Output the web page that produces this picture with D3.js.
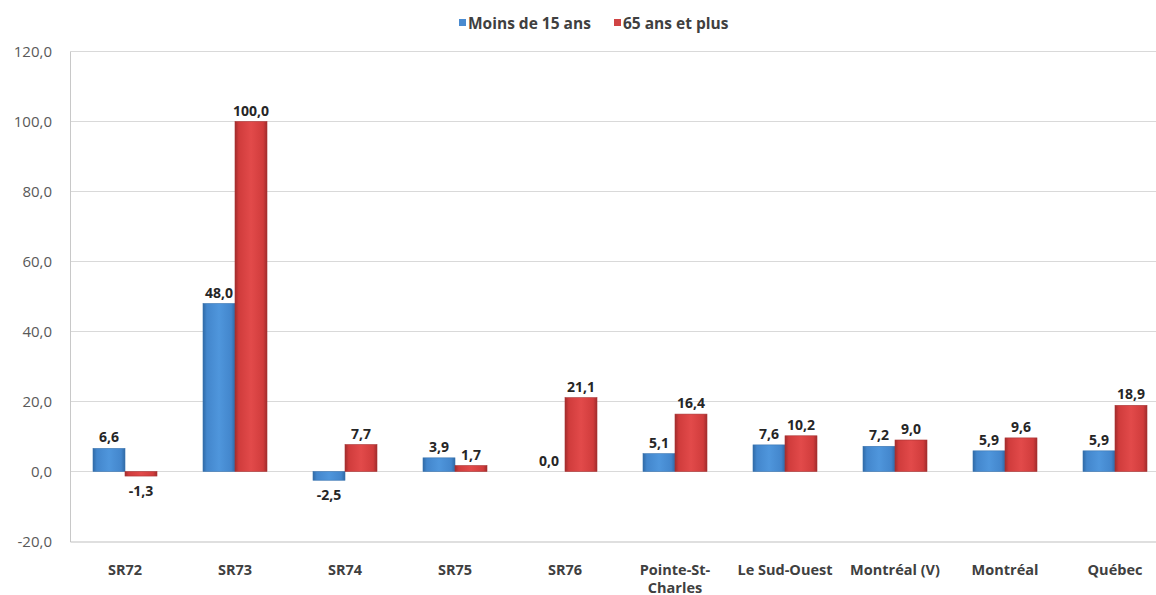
<!DOCTYPE html>
<html><head><meta charset="utf-8">
<script src="https://cdn.jsdelivr.net/npm/d3@7"></script>
<style>
html,body{margin:0;padding:0;background:#fff;overflow:hidden;}
text{font-family:"Open Sans","Lato",sans-serif;}
</style></head>
<body>
<svg id="chart" width="1156" height="595"></svg>
<script>
const categories = ["SR72","SR73","SR74","SR75","SR76","Pointe-St-|Charles","Le Sud-Ouest","Montréal (V)","Montréal","Québec"];
const seriesNames = ["Moins de 15 ans","65 ans et plus"];
const moins15 = [6.6, 48.0, -2.5, 3.9, 0.0, 5.1, 7.6, 7.2, 5.9, 5.9];
const plus65 = [-1.3, 100.0, 7.7, 1.7, 21.1, 16.4, 10.2, 9.0, 9.6, 18.9];
const yTicks = [-20, 0, 20, 40, 60, 80, 100, 120];

(function(){
const svg = d3.select("#chart");
const mLeft = 70, mRight = 1170, mTop = 51.5, mBottom = 541.5;
const x = d3.scaleBand().domain(categories).range([mLeft, mRight]).paddingInner(0).paddingOuter(0);
const x1 = d3.scaleBand().domain(seriesNames).range([x.bandwidth()/2 - 32, x.bandwidth()/2 + 32]).padding(0);
const y = d3.scaleLinear().domain([-20, 120]).range([mBottom, mTop]);
const fmt = v => d3.format(".1f")(v).replace(".", ",").replace("\u2212", "-");

const defs = svg.append("defs");
function grad(id, dark, mid, light){
  const g = defs.append("linearGradient").attr("id", id).attr("x1","0").attr("x2","1").attr("y1","0").attr("y2","0");
  [[0,dark],[0.12,mid],[0.5,light],[0.88,mid],[1,dark]].forEach(([o,c])=>g.append("stop").attr("offset",o).attr("stop-color",c));
}
grad("gBlue", "#2f6aa6", "#4386cc", "#4f96dc");
grad("gRed", "#a12c2c", "#d03c3c", "#e24a4a");
const fills = {"Moins de 15 ans":"url(#gBlue)","65 ans et plus":"url(#gRed)"};
const strokes = {"Moins de 15 ans":"#3a74b0","65 ans et plus":"#a83434"};

// gridlines
svg.append("g").selectAll("line").data(yTicks.filter(t=>t!==-20)).join("line")
  .attr("x1", mLeft).attr("x2", mRight).attr("y1", d=>y(d)).attr("y2", d=>y(d))
  .attr("stroke", "#d9d9d9").attr("stroke-width", 1);

// y axis
const yAxis = d3.axisLeft(y).tickValues(yTicks).tickFormat(fmt).tickSize(0).tickPadding(18);
const gy = svg.append("g").attr("transform", `translate(${mLeft},0)`).call(yAxis);
gy.select(".domain").attr("stroke", "#c8c8c8");
gy.selectAll("text").attr("fill", "#595959").style("font-size", "15px").attr("font-family","'Open Sans', sans-serif");

// x axis at bottom
const xAxis = d3.axisBottom(x).tickSize(0).tickPadding(0).tickFormat("");
const gx = svg.append("g").attr("transform", `translate(0,${mBottom})`).call(xAxis);
gx.select(".domain").attr("stroke", "#bfbfbf");
gx.selectAll(".tick").each(function(d){
  const parts = d.split("|");
  const t = d3.select(this).append("text").attr("fill", "#404040").attr("font-weight","bold")
    .style("font-size","14.5px").attr("text-anchor","middle");
  parts.forEach((p,i)=>t.append("tspan").attr("x",0).attr("y", 33 + i*18).text(p));
});

// bars
const data = categories.map((c,i)=>({cat:c, vals:[{s:seriesNames[0], v:moins15[i]},{s:seriesNames[1], v:plus65[i]}]}));
const groups = svg.append("g").selectAll("g").data(data).join("g")
  .attr("transform", d=>`translate(${x(d.cat)},0)`);
groups.selectAll("rect").data(d=>d.vals).join("rect")
  .attr("x", d=>x1(d.s)).attr("width", x1.bandwidth())
  .attr("y", d=>y(Math.max(0,d.v))).attr("height", d=>Math.abs(y(d.v)-y(0)))
  .attr("fill", d=>fills[d.s]).attr("stroke", d=>strokes[d.s]).attr("stroke-width", 0.6);
groups.selectAll("text.lbl").data(d=>d.vals).join("text").attr("class","lbl")
  .attr("x", d=>x1(d.s)+x1.bandwidth()/2)
  .attr("y", d=> d.v>=0 ? y(d.v)-6 : y(d.v)+20)
  .attr("text-anchor","middle").attr("font-weight","bold").style("font-size","14px").attr("fill","#262626")
  .text(d=>fmt(d.v));

// legend
const legend = svg.append("g").attr("transform","translate(459,23)");
const lx = [0, 155];
seriesNames.forEach((s,i)=>{
  const g = legend.append("g").attr("transform", `translate(${lx[i]},0)`);
  g.append("rect").attr("x",0).attr("y",-4).attr("width",7).attr("height",7).attr("fill", i===0?"#4a8bd0":"#d04444");
  g.append("text").attr("x",9).attr("y",5.5).attr("font-weight","bold").style("font-size","15.5px").attr("fill","#404040").text(s);
});
})();
</script>
</body></html>
